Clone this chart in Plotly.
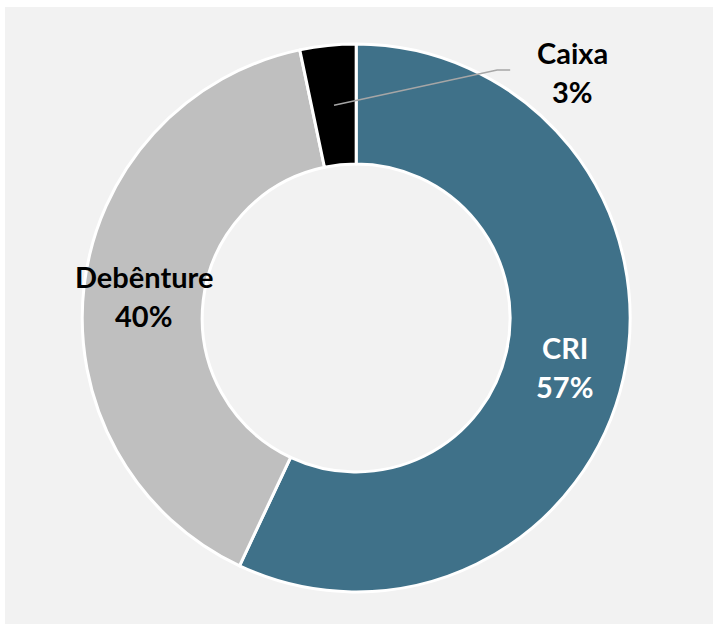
import math
import plotly.graph_objects as go

labels = ["CRI", "Debênture", "Caixa"]
values = [57.0, 39.7, 3.3]
colors = ["#3f7189", "#bfbfbf", "#000000"]
text_colors = ["#ffffff", "#000000", "#000000"]

W, H = 713, 624
ML, MT = 5, 7
PW, PH = W - ML, H - MT
DOM_X = [0.109, 0.883]
DOM_Y = [0.052, 0.940]
HOLE = 0.562
FONT = "Lato"
FS = 29

fig = go.Figure(go.Pie(
    labels=labels, values=values, sort=False, direction="clockwise", rotation=0,
    hole=HOLE, marker=dict(colors=colors, line=dict(color="#ffffff", width=3)),
    textinfo="none", hoverinfo="label+percent", showlegend=False,
    domain=dict(x=DOM_X, y=DOM_Y),
))

# geometry derived from domain
cx = (DOM_X[0] + DOM_X[1]) / 2
cy = (DOM_Y[0] + DOM_Y[1]) / 2
R = min((DOM_X[1] - DOM_X[0]) * PW, (DOM_Y[1] - DOM_Y[0]) * PH) / 2
rmid = R * (1 + HOLE) / 2
total = sum(values)


def to_paper(dx, dy):
    return cx + dx / PW, cy - dy / PH


annotations = []
shapes = [dict(type="rect", xref="paper", yref="paper", x0=0, x1=1, y0=0, y1=1,
               fillcolor="#f2f2f2", line=dict(width=0), layer="below")]
cum = 0
for lab, v, tc in zip(labels, values, text_colors):
    mid = (cum + v / 2) / total * 2 * math.pi
    cum += v
    pct = f"{round(v / total * 100)}%"
    dx, dy = rmid * math.sin(mid), -rmid * math.cos(mid)
    if lab == "Caixa":
        sx, sy = to_paper(dx, dy)
        ex, ey = to_paper(141, -248)
        hx, hy = to_paper(154, -248)
        shapes.append(dict(type="path", xref="paper", yref="paper",
                           path=f"M {sx},{sy} L {ex},{ey} L {hx},{hy}",
                           line=dict(color="#a6a6a6", width=1.5)))
        lx, ly = to_paper(216, -246)
    else:
        lx, ly = to_paper(dx, dy + 2)
    for txt, shift in ((lab, 19), (pct, -20)):
        annotations.append(dict(x=lx, y=ly, xref="paper", yref="paper", text=f"<b>{txt}</b>",
                                showarrow=False, yshift=shift, xanchor="center", yanchor="middle",
                                font=dict(family=FONT, size=FS, color=tc)))

fig.update_layout(
    width=W, height=H, margin=dict(l=ML, r=0, t=MT, b=0),
    paper_bgcolor="#ffffff", annotations=annotations, shapes=shapes,
)
fig.write_html("out.html", config={"displayModeBar": False},
               post_script="document.body.style.margin='0';")
